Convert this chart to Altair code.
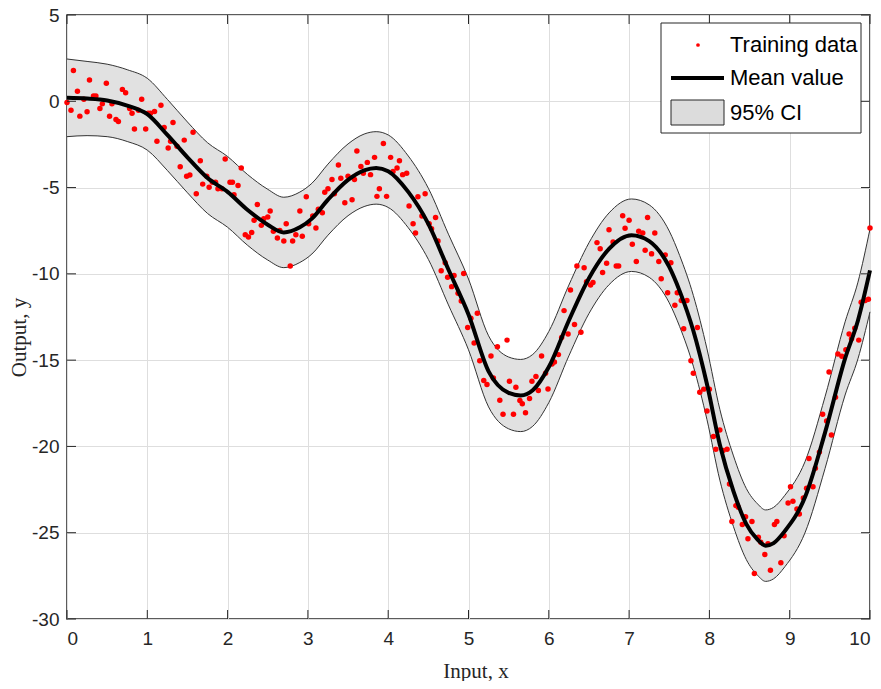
import altair as alt
import pandas as pd

# ---------------- data ----------------
train_x = [0.00, 0.08, 0.05, 0.13, 0.16, 0.21, 0.25, 0.28, 0.33, 0.36, 0.41, 0.44, 0.49, 0.53, 0.56,
           0.61, 0.64, 0.69, 0.73, 0.78, 0.81, 0.84, 0.89, 0.93, 0.98, 1.01, 1.04, 1.09, 1.12, 1.17,
           1.21, 1.26, 1.29, 1.32, 1.37, 1.41, 1.46, 1.49, 1.53, 1.57, 1.61, 1.66, 1.69,
           1.74, 1.77, 1.81, 1.85, 1.88, 1.93, 1.97, 2.03, 2.06, 2.08, 2.13, 2.17, 2.22, 2.26, 2.30,
           2.33, 2.37, 2.42, 2.45, 2.50, 2.53, 2.57, 2.62, 2.65, 2.70, 2.73, 2.78, 2.81, 2.85, 2.90,
           2.93, 2.98, 3.01, 3.06, 3.10, 3.13, 3.18, 3.21, 3.25,
           3.30, 3.33, 3.38, 3.41, 3.46, 3.50, 3.55, 3.58, 3.61, 3.66, 3.69, 3.74, 3.78, 3.83, 3.86,
           3.89, 3.94, 3.98, 4.03, 4.06, 4.11, 4.14, 4.18, 4.23, 4.26, 4.31, 4.34, 4.37, 4.42, 4.46,
           4.51, 4.54, 4.59, 4.62, 4.66, 4.71, 4.74, 4.79, 4.82, 4.87, 4.91, 4.94,
           4.99, 5.03, 5.07, 5.11, 5.14, 5.19, 5.23, 5.28, 5.31, 5.36, 5.39, 5.43, 5.48, 5.51, 5.56,
           5.59, 5.64, 5.67, 5.71, 5.76, 5.79, 5.84, 5.87, 5.91, 5.96, 5.99, 6.04, 6.07, 6.12, 6.16,
           6.19, 6.24, 6.27, 6.32, 6.35, 6.40, 6.44, 6.47, 6.52, 6.55, 6.60, 6.64, 6.67, 6.72, 6.80,
           6.84, 6.87,
           6.75, 6.92, 6.95, 7.00, 7.04, 7.09, 7.12, 7.17, 7.20, 7.23, 7.28, 7.32, 7.37, 7.40, 7.45,
           7.48, 7.52, 7.57, 7.60, 7.65, 7.72, 7.68, 7.85, 7.77, 7.80, 7.88, 7.93, 8.00, 7.97, 8.05,
           8.13, 8.08, 8.17, 8.22, 8.25, 8.33, 8.36, 8.28, 8.41, 8.45, 8.48, 8.53, 8.61, 8.56,
           8.64, 8.69, 8.73, 8.76, 8.81, 8.84, 8.89, 8.93, 8.98, 9.01, 9.04, 9.09, 9.12, 9.17, 9.21,
           9.24, 9.29, 9.32, 9.37, 9.41, 9.46, 9.49, 9.52, 9.57, 9.60, 9.65, 9.70, 9.74, 9.77, 9.81,
           9.86, 9.89, 9.94, 9.98, 10.00]
train_y = [-0.07, 1.79, -0.52, 0.58, -0.86, 0.12, -0.60, 1.23, 0.31, 0.31, -0.42, -0.15, 1.04, -0.87, -0.15,
           -1.06, -1.17, 0.69, 0.50, -0.42, -0.69, -1.61, -0.52, 0.12, -1.61, -0.69, -0.69, -0.59, -2.32, -0.23,
           -1.52, -2.71, -2.32, -1.23, -2.61, -3.80, -2.25, -4.34, -4.27, -1.79, -5.36, -3.44, -4.80,
           -4.34, -4.98, -4.69, -4.69, -5.07, -5.07, -3.34, -4.69, -4.69, -5.42, -4.88, -3.86, -7.73, -7.86, -7.61,
           -6.90, -5.98, -7.19, -6.80, -6.71, -6.36, -7.53, -7.92, -7.48, -8.09, -7.09, -9.55, -8.09, -7.73, -6.36,
           -7.82, -5.53, -7.09, -6.65, -7.34, -6.26, -6.46, -5.27, -5.07,
           -4.53, -5.36, -3.69, -4.46, -5.88, -4.34, -5.71, -4.53, -2.88, -3.78, -4.17, -3.54, -4.25, -3.25, -5.51,
           -5.07, -2.44, -5.51, -3.25, -4.07, -3.86, -3.44, -4.25, -4.17, -6.07, -7.09, -7.63, -5.53, -6.65, -5.36,
           -7.09, -7.38, -6.73, -8.09, -9.82, -9.36, -10.20, -10.74, -10.09, -11.13, -11.57, -9.98,
           -13.11, -12.57, -14.01, -12.28, -15.03, -16.18, -16.41, -14.76, -16.03, -14.22, -17.32, -18.14, -13.84, -16.22, -18.14,
           -16.57, -17.34, -17.53, -18.05, -17.22, -16.22, -15.95, -16.76, -14.76, -15.76, -16.67, -15.22, -15.11, -14.68, -13.69,
           -12.13, -13.49, -10.94, -12.94, -9.55, -13.38, -9.65, -10.46, -10.65, -10.50, -8.19, -8.54, -9.92, -9.38, -8.15,
           -9.55, -9.55,
           -7.44, -6.63, -7.36, -6.90, -8.28, -9.28, -7.53, -7.63, -8.63, -6.73, -8.84, -7.63, -9.28, -10.28, -8.90,
           -11.09, -9.36, -11.82, -11.09, -11.55, -11.55, -13.18, -13.11, -15.03, -15.76, -16.86, -16.68, -16.68, -17.95, -19.43,
           -19.05, -20.16, -20.24, -20.16, -22.18, -23.43, -23.53, -24.35, -24.53, -24.07, -25.35, -24.35, -25.26, -27.37,
           -25.55, -26.26, -25.64, -27.18, -24.53, -24.35, -26.74, -25.18, -23.28, -22.34, -23.18, -23.62, -23.91, -22.99, -22.43,
           -20.70, -22.34, -21.26, -20.33, -18.14, -18.53, -15.69, -19.34, -17.15, -14.65, -14.78, -14.40, -13.49, -13.76, -13.15,
           -13.84, -11.65, -11.55, -11.47, -7.34]

mean_x = [0.0, 0.25, 0.5, 0.75, 1.0, 1.25, 1.5, 1.75, 2.0, 2.25, 2.5, 2.7, 2.9, 3.05, 3.25, 3.5,
          3.7, 3.85, 4.0, 4.25, 4.5, 4.75, 5.0, 5.25, 5.5, 5.65, 5.8, 6.0, 6.25, 6.5, 6.75, 7.03,
          7.25, 7.5, 7.63, 7.8, 7.97, 8.13, 8.3, 8.46, 8.6, 8.7, 8.8, 8.94, 9.19, 9.44, 9.69, 9.85, 10.0]
mean_y = [0.20, 0.16, 0.05, -0.25, -0.75, -1.95, -3.25, -4.45, -5.25, -6.30, -7.15, -7.60, -7.30, -6.80, -5.70, -4.55,
          -4.00, -3.86, -4.05, -5.25, -7.10, -9.75, -12.35, -15.65, -16.90, -17.05, -16.75, -15.40, -12.70, -10.25, -8.55, -7.76,
          -8.10, -9.60, -11.00, -13.30, -16.40, -19.90, -22.60, -24.50, -25.40, -25.75, -25.60, -24.90, -22.95, -19.20, -14.90, -12.70, -9.80]
half_ci = [2.25, 2.15, 2.10, 2.08, 2.08, 2.06, 2.05, 2.05, 2.05, 2.05, 2.05, 2.04, 2.04, 2.05, 2.06, 2.08,
           2.10, 2.10, 2.10, 2.08, 2.06, 2.05, 2.05, 2.06, 2.08, 2.09, 2.08, 2.06, 2.05, 2.05, 2.08, 2.10,
           2.10, 2.08, 2.06, 2.05, 2.05, 2.05, 2.05, 2.06, 2.07, 2.07, 2.07, 2.07, 2.06, 2.08, 2.12, 2.22, 2.40]

x_ticks = [0, 1, 2, 3, 4, 5, 6, 7, 8, 9, 10]
y_ticks = [-30, -25, -20, -15, -10, -5, 0, 5]
legend_labels = ["Training data", "Mean value", "95% CI"]

# ---------------- chart ----------------
W, H = 803, 604
INK = "#262626"
NUM_FONT = "Liberation Sans Narrow, Arial Narrow, Liberation Sans, sans-serif"
SERIF = "Liberation Serif, Times New Roman, serif"
SANS = "Liberation Sans, Arial, sans-serif"

pts = pd.DataFrame({"x": train_x, "y": train_y})
curve = pd.DataFrame({
    "x": mean_x,
    "mean": mean_y,
    "lo": [m - h for m, h in zip(mean_y, half_ci)],
    "hi": [m + h for m, h in zip(mean_y, half_ci)],
})

xs = alt.Scale(domain=[0, 10], nice=False, zero=False)
ys = alt.Scale(domain=[-30, 5], nice=False, zero=False)

x_axis = alt.Axis(values=x_ticks, title="Input, x", grid=True, gridColor="#dedede", gridWidth=1,
                  tickSize=0, domain=False, labelFont=NUM_FONT, labelFontSize=19, labelColor=INK,
                  labelExpr="'' + datum.value",
                  labelPadding=10, titleFont=SERIF, titleFontSize=21, titleFontWeight="normal",
                  titleColor=INK, titleBaseline="middle", titleY=52, titleX=W / 2 + 7)
y_axis = alt.Axis(values=y_ticks, title="Output, y", grid=True, gridColor="#dedede", gridWidth=1,
                  tickSize=0, domain=False, labelFont=NUM_FONT, labelFontSize=19, labelColor=INK,
                  labelExpr="'' + datum.value",
                  labelPadding=8, titleFont=SERIF, titleFontSize=21, titleFontWeight="normal",
                  titleColor=INK, titleBaseline="middle", titleX=-48, titleY=H / 2 + 20, titleAngle=270)

band = alt.Chart(curve).mark_area(color="#e1e1e1", opacity=1, interpolate="monotone").encode(
    x=alt.X("x:Q", scale=xs, axis=x_axis),
    y=alt.Y("lo:Q", scale=ys, axis=y_axis),
    y2="hi:Q",
)
upper = alt.Chart(curve).mark_line(color="#333333", strokeWidth=1, interpolate="monotone").encode(
    x=alt.X("x:Q", scale=xs), y=alt.Y("hi:Q", scale=ys))
lower = alt.Chart(curve).mark_line(color="#333333", strokeWidth=1, interpolate="monotone").encode(
    x=alt.X("x:Q", scale=xs), y=alt.Y("lo:Q", scale=ys))
mean_line = alt.Chart(curve).mark_line(color="black", strokeWidth=4, interpolate="monotone").encode(
    x=alt.X("x:Q", scale=xs), y=alt.Y("mean:Q", scale=ys))
dots = alt.Chart(pts).mark_circle(color="#ff0000", size=30, opacity=1).encode(
    x=alt.X("x:Q", scale=xs), y=alt.Y("y:Q", scale=ys))

# inward ticks on all four sides
xt = pd.DataFrame({"v": x_ticks})
yt = pd.DataFrame({"v": y_ticks})
tick_b = alt.Chart(xt).mark_rule(color=INK, strokeWidth=1).encode(
    x=alt.X("v:Q", scale=xs), y=alt.value(H), y2=alt.value(H - 9))
tick_t = alt.Chart(xt).mark_rule(color=INK, strokeWidth=1).encode(
    x=alt.X("v:Q", scale=xs), y=alt.value(0), y2=alt.value(9))
tick_l = alt.Chart(yt).mark_rule(color=INK, strokeWidth=1).encode(
    y=alt.Y("v:Q", scale=ys), x=alt.value(0), x2=alt.value(9))
tick_r = alt.Chart(yt).mark_rule(color=INK, strokeWidth=1).encode(
    y=alt.Y("v:Q", scale=ys), x=alt.value(W), x2=alt.value(W - 9))

# legend (drawn in pixel space)
one = pd.DataFrame({"k": [0]})
leg_box = alt.Chart(one).mark_rect(fill="white", stroke=INK, strokeWidth=1).encode(
    x=alt.value(594), x2=alt.value(794), y=alt.value(8), y2=alt.value(118))
leg_dot = alt.Chart(one).mark_circle(color="#ff0000", size=14, opacity=1).encode(
    x=alt.value(631), y=alt.value(30))
leg_line = alt.Chart(one).mark_rule(color="black", strokeWidth=4).encode(
    x=alt.value(604), x2=alt.value(657), y=alt.value(63))
leg_rect = alt.Chart(one).mark_rect(fill="#dcdcdc", stroke=INK, strokeWidth=1).encode(
    x=alt.value(604), x2=alt.value(657), y=alt.value(85), y2=alt.value(110))

leg_texts = []
for label, yy in zip(legend_labels, [30, 63, 98]):
    leg_texts.append(
        alt.Chart(pd.DataFrame({"t": [label]})).mark_text(
            align="left", baseline="middle", font=SANS, fontSize=22, color="black"
        ).encode(x=alt.value(663), y=alt.value(yy), text="t:N")
    )

chart = alt.layer(
    band, upper, lower, dots, mean_line, tick_b, tick_t, tick_l, tick_r,
    leg_box, leg_dot, leg_line, leg_rect, *leg_texts,
).properties(
    width=W, height=H,
    autosize=alt.AutoSizeParams(type="none"),
    padding={"left": 59, "top": 7, "right": 3, "bottom": 62},
    background="white",
).configure_view(stroke=INK, strokeWidth=1.5)

chart.save("out.html", embed_options={"renderer": "svg", "actions": False})
